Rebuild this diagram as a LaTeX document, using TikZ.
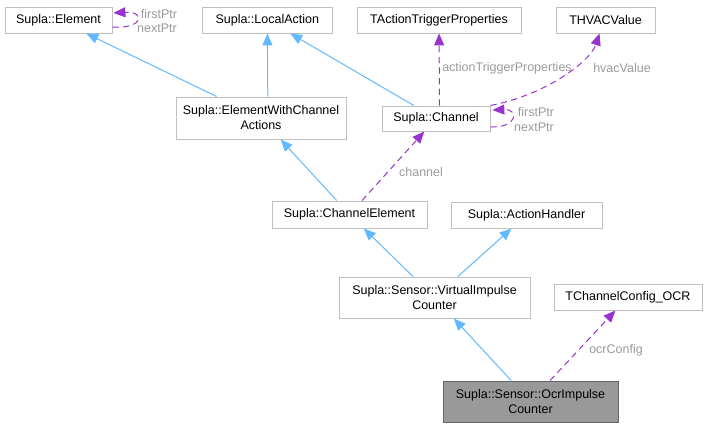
\documentclass[tikz,border=0pt]{standalone}
\usepackage{fontspec}
\setmainfont{Liberation Sans}
\usepackage{xcolor}
\usepackage{tikz}
\usetikzlibrary{calc,arrows.meta}
\definecolor{edgeBlue}{HTML}{63B8FF}
\definecolor{edgePurple}{HTML}{9A32CD}
\definecolor{boxGray}{HTML}{BFBFBF}
\definecolor{lblGray}{HTML}{9A9A9A}
\definecolor{curFill}{HTML}{999999}
\definecolor{curDraw}{HTML}{666666}

\begin{document}
\begin{tikzpicture}[
  x=0.8pt, y=-0.8pt,
  every node/.style={font=\fontsize{10}{12}\selectfont},
  cls/.style={
    draw=boxGray, fill=white, line width=0.8pt, align=center,
    inner sep=0pt,
  },
  wd/.style={minimum width=#1*0.8pt},
  ht/.style={minimum height=#1*0.8pt},
  cur/.style={cls, fill=curFill, draw=curDraw},
  inh/.style={-{Triangle[length=9.5pt, width=8pt]}, edgeBlue, line width=0.8pt},
  usage/.style={-{Triangle[length=9.5pt, width=8pt]}, edgePurple, line width=0.8pt,
    dash pattern=on 5pt off 3.5pt},
  lbl/.style={text=lblGray},
]

\useasboundingbox (0,0) rectangle (707,427);

% Classes, top row
\node[cls, wd=107, ht=26] (elem) at (58.5, 20) {Supla::Element};
\node[cls, wd=130, ht=26] (locact) at (267.3, 20) {Supla::LocalAction};
\node[cls, wd=164, ht=26] (tatp) at (439, 20) {TActionTriggerProperties};
\node[cls, wd=99, ht=26] (hvac) at (605.5, 20) {THVACValue};

% Second row
\node[cls, wd=170, ht=42] (ewca) at (261, 118) {Supla::ElementWithChannel\\Actions};
\node[cls, wd=108, ht=25] (chan) at (436, 118.5) {Supla::Channel};

% Third row
\node[cls, wd=155, ht=27] (chel) at (349.5, 214.5) {Supla::ChannelElement};
\node[cls, wd=151, ht=26] (ahand) at (526.5, 215) {Supla::ActionHandler};

% Fourth row
\node[cls, wd=191, ht=41] (vic) at (434.5, 297.5) {Supla::Sensor::VirtualImpulse\\Counter};
\node[cls, wd=148, ht=26] (tcc) at (628, 297) {TChannelConfig\_OCR};

% Current class
\node[cur, wd=175, ht=41] (oic) at (530.5, 401.5) {Supla::Sensor::OcrImpulse\\Counter};

% Inheritance
\draw[inh] (ewca) -- (elem);
\draw[inh] ([xshift=0.4pt]locact |- ewca.north) -- (locact);
\draw[inh] (chan) -- (locact);
\draw[inh] (chel) -- (ewca);
\draw[inh] (vic) -- (chel);
\draw[inh] (vic) -- (ahand);
\draw[inh] (oic) -- (vic);

% Members
\draw[usage] (chel) -- (chan);
\draw[usage] ([xshift=0.4pt]tatp |- chan.north) -- (tatp);
\draw[usage] (chan.north east) .. controls (545, 95) and (590, 62) .. ([xshift=-4.8pt]hvac.south);
\draw[usage] (oic) -- (tcc);
\draw[usage] ($(elem.east)+(0,7)$) .. controls +(32,2) and +(32,-2) .. ($(elem.east)+(1,-7)$);
\draw[usage] ($(chan.east)+(0,8.5)$) .. controls +(27,1) and +(27,-1) .. ($(chan.east)+(2,-8.5)$);

% Member labels
\node[lbl] (lfirst1) at (159, 14) {firstPtr};
\node[lbl] (lnext1) at (157, 28) {nextPtr};
\node[lbl] (latp) at (507, 68) {actionTriggerProperties};
\node[lbl] (lhvac) at (622, 68) {hvacValue};
\node[lbl] (lfirst2) at (536, 112) {firstPtr};
\node[lbl] (lnext2) at (534, 127) {nextPtr};
\node[lbl] (lchan) at (421, 172) {channel};
\node[lbl] (locr) at (616, 350) {ocrConfig};

\end{tikzpicture}
\end{document}
